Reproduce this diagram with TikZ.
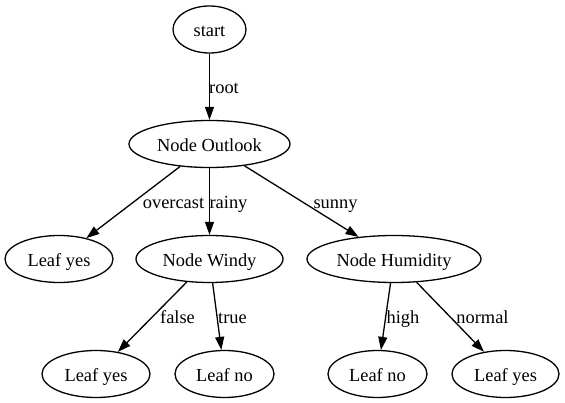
\documentclass[tikz,border=0pt]{standalone}
\usepackage{fontspec}
\setmainfont{Liberation Serif}
\usetikzlibrary{shapes.geometric,arrows.meta}
\begin{document}
\begin{tikzpicture}[x=1pt,y=-1pt,
  gnode/.style={draw, ellipse, line width=1.3pt, inner sep=0pt, minimum height=47pt,
    text height=15pt, text depth=0pt, font=\fontsize{18.4}{22}\selectfont},
  elabel/.style={anchor=base, inner sep=0pt, font=\fontsize{18.4}{22}\selectfont},
  edge/.style={line width=1.3pt, -{Triangle[length=13pt,width=9pt]}}]
\useasboundingbox (0,0) rectangle (565,403);
\node[gnode, minimum width=73pt]  (start)   at (209.5,29.5) {start};
\node[gnode, minimum width=161pt] (outlook) at (209.5,144) {Node Outlook};
\node[gnode, minimum width=108pt] (ly1)     at (59,259) {Leaf yes};
\node[gnode, minimum width=147pt] (windy)   at (209.5,259) {Node Windy};
\node[gnode, minimum width=174pt] (hum)     at (394,259) {Node Humidity};
\node[gnode, minimum width=108pt] (ly2)     at (96,374) {Leaf yes};
\node[gnode, minimum width=99pt]  (ln1)     at (224.5,374) {Leaf no};
\node[gnode, minimum width=99pt]  (ln2)     at (377.5,374) {Leaf no};
\node[gnode, minimum width=107pt] (ly3)     at (505.5,374) {Leaf yes};

\draw[edge] (start) -- (outlook);
\draw[edge] (outlook) -- (ly1);
\draw[edge] (outlook) -- (windy);
\draw[edge] (outlook) -- (hum);
\draw[edge] (windy) -- (ly2);
\draw[edge] (windy) -- (ln1);
\draw[edge] (hum) -- (ln2);
\draw[edge] (hum) -- (ly3);

\node[elabel] (lroot)     at (224,94) {root};
\node[elabel] (lovercast) at (173.5,209) {overcast};
\node[elabel] (lrainy)    at (228.5,209) {rainy};
\node[elabel] (lsunny)    at (335.5,209) {sunny};
\node[elabel] (lfalse)    at (177.5,323.5) {false};
\node[elabel] (ltrue)     at (232.5,323.5) {true};
\node[elabel] (lhigh)     at (403,323.5) {high};
\node[elabel] (lnormal)   at (482.5,323.5) {normal};
\end{tikzpicture}
\end{document}
